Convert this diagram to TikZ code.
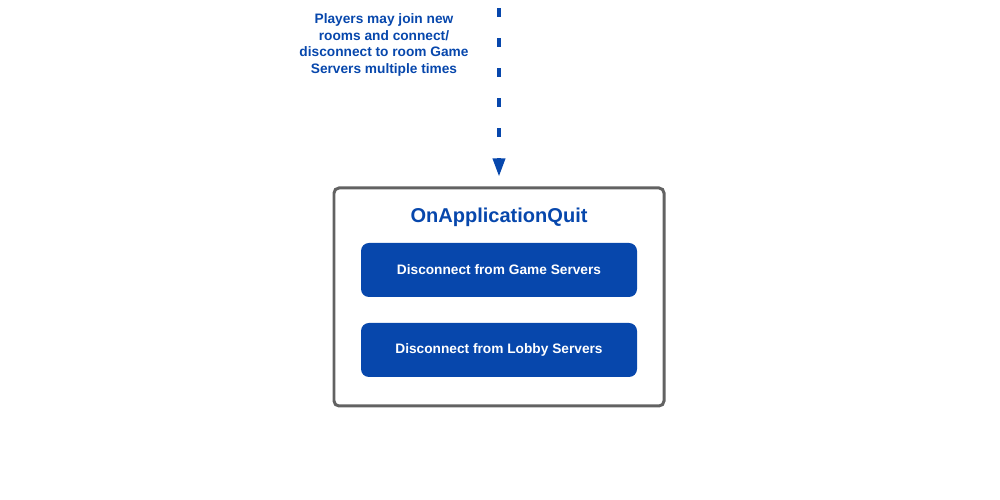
\documentclass[tikz,border=0pt]{standalone}
\usepackage{fontspec}
\setmainfont{Liberation Sans}
\usetikzlibrary{arrows.meta}
\usetikzlibrary{positioning}
\definecolor{quitblue}{HTML}{0747AC}
\definecolor{framegray}{HTML}{626262}

\begin{document}
\begin{tikzpicture}
\useasboundingbox (0,0) rectangle (20,10);
\tikzset{
 stepbox/.style={rectangle,rounded corners=0.16cm,fill=quitblue,minimum width=5.52cm,minimum height=1.08cm,font=\fontsize{7.8}{9}\selectfont\bfseries,text=white},
}
\node[draw=framegray,line width=1.7pt,rounded corners=0.1cm,minimum width=6.6cm,minimum height=4.36cm] (quit) at (9.98,4.06) {};
\node[font=\fontsize{11.4}{13}\selectfont\bfseries,text=quitblue] (title) at (9.98,5.65) {OnApplicationQuit};
\node[stepbox] (game) at (9.98,4.6) {Disconnect from Game Servers};
\node[stepbox] (lobby) at (9.98,3.0) {Disconnect from Lobby Servers};

\node[font=\fontsize{7.8}{9.6}\selectfont\bfseries,text=quitblue,align=center] (note) at (7.68,9.1) {Players may join new\\rooms and connect/\\disconnect to room Game\\Servers multiple times};
\coordinate (top) at (9.98,10);
\draw[quitblue,line width=2pt,dash pattern=on 0.17cm off 0.43cm,dash phase=0.43cm,-{Triangle[length=0.36cm,width=0.24cm]},shorten >=0.2cm] (top) -- (quit.north);

\end{tikzpicture}
\end{document}
